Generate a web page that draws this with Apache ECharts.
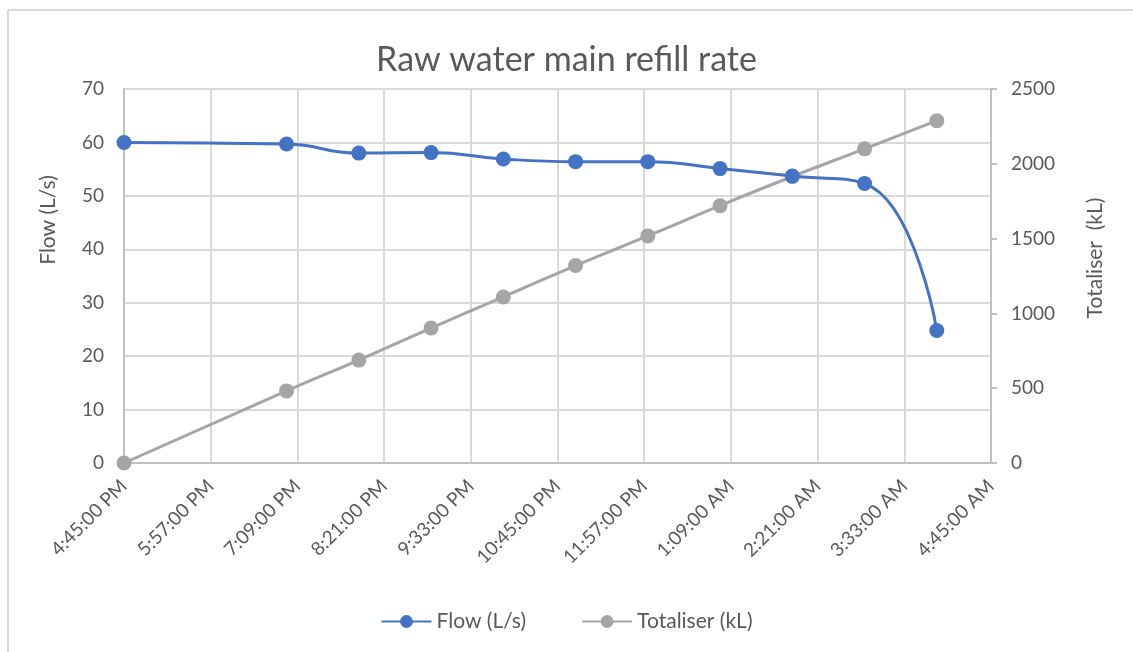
<!DOCTYPE html>
<html>
<head>
<meta charset="utf-8">
<script src="https://cdn.jsdelivr.net/npm/echarts@6/dist/echarts.min.js"></script>
<style>
  html, body { margin: 0; padding: 0; background: #fff; }
  #chart { width: 1133px; height: 652px; }
</style>
</head>
<body>
<div id="chart"></div>
<script>
// readings (time of day)
const times = ['4:45 PM', '7:00 PM', '8:00 PM', '9:00 PM', '10:00 PM', '11:00 PM',
  '12:00 AM', '1:00 AM', '2:00 AM', '3:00 AM', '4:00 AM']
const flow = [60, 59.7, 58, 58.1, 56.9, 56.4, 56.4, 55.1, 53.7, 52.3, 24.8]
const totaliser = [0, 482, 688, 902, 1110, 1320, 1518, 1720, 1915, 2100, 2288]

const startMin = 16 * 60 + 45  // 4:45 PM

// "7:00 PM" -> minutes after the start, wrapping past midnight
const toOffset = (t) => {
  const [hm, ap] = t.split(' ')
  let [h, m] = hm.split(':').map(Number)
  if (ap === 'PM' && h !== 12) h += 12
  if (ap === 'AM' && h === 12) h = 0
  let mins = h * 60 + m - startMin
  if (mins < 0) mins += 24 * 60
  return mins
}

// axis label like Excel: 4:45:00 PM
const fmtTime = (v) => {
  let mins = (startMin + v) % (24 * 60)
  let h = Math.floor(mins / 60)
  const m = Math.round(mins % 60)
  const ap = h >= 12 ? 'PM' : 'AM'
  h = h % 12
  if (h === 0) h = 12
  return h + ':' + String(m).padStart(2, '0') + ':00 ' + ap
}

const xs = times.map(toOffset)
const font = 'Lato, "Open Sans", sans-serif'
const textColor = '#595959'

const chart = echarts.init(document.getElementById('chart'))
chart.setOption({
  animation: false,
  textStyle: { fontFamily: font },
  title: {
    text: 'Raw water main refill rate',
    left: 'center',
    top: 38,
    textStyle: { fontFamily: font, fontSize: 34, fontWeight: 'normal', color: textColor }
  },
  legend: {
    bottom: 15,
    left: 'center',
    itemWidth: 50,
    itemHeight: 16,
    itemGap: 55,
    textStyle: { fontFamily: font, fontSize: 21, color: textColor }
  },
  graphic: [
    { type: 'line', shape: { x1: 8, y1: 10, x2: 1133, y2: 10 }, style: { stroke: '#d9d9d9', lineWidth: 2 } },
    { type: 'line', shape: { x1: 8, y1: 10, x2: 8, y2: 652 }, style: { stroke: '#d9d9d9', lineWidth: 2 } }
  ],
  grid: { left: 124, right: 142, top: 89, bottom: 189 },
  xAxis: {
    type: 'value',
    min: 0,
    max: 720,
    interval: 72,
    axisLine: { onZero: false, lineStyle: { color: '#bfbfbf', width: 2 } },
    axisTick: { show: false },
    splitLine: { lineStyle: { color: '#d9d9d9', width: 2 } },
    axisLabel: {
      rotate: 45,
      formatter: fmtTime,
      fontFamily: font,
      fontSize: 19,
      color: textColor,
      margin: 20
    }
  },
  yAxis: [
    {
      type: 'value',
      min: 0,
      max: 70,
      interval: 10,
      name: 'Flow (L/s)',
      nameLocation: 'middle',
      nameGap: 65,
      nameTextStyle: { fontFamily: font, fontSize: 21, color: textColor, padding: [0, 0, 0, 112] },
      axisLine: { show: true, lineStyle: { color: '#bfbfbf', width: 2 } },
      axisTick: { show: false },
      splitLine: { lineStyle: { color: '#d9d9d9', width: 2 } },
      axisLabel: { fontFamily: font, fontSize: 19, color: textColor, margin: 20 }
    },
    {
      type: 'value',
      min: 0,
      max: 2500,
      interval: 500,
      name: 'Totaliser  (kL)',
      nameLocation: 'middle',
      nameGap: 94,
      nameTextStyle: { fontFamily: font, fontSize: 21, color: textColor, padding: [0, 0, 0, 36] },
      axisLine: { show: true, lineStyle: { color: '#bfbfbf', width: 2 } },
      axisTick: { show: true, length: 6, lineStyle: { color: '#bfbfbf', width: 2 } },
      splitLine: { show: false },
      axisLabel: { fontFamily: font, fontSize: 19, color: textColor, margin: 20, formatter: (v) => String(v) }
    }
  ],
  series: [
    {
      name: 'Flow (L/s)',
      type: 'line',
      yAxisIndex: 0,
      smooth: 0.5,
      symbol: 'circle',
      symbolSize: 15,
      lineStyle: { color: '#4472c4', width: 3 },
      itemStyle: { color: '#4472c4' },
      data: xs.map((x, i) => [x, flow[i]]),
      z: 3
    },
    {
      name: 'Totaliser (kL)',
      type: 'line',
      yAxisIndex: 1,
      smooth: 0.5,
      symbol: 'circle',
      symbolSize: 15,
      lineStyle: { color: '#a5a5a5', width: 3 },
      itemStyle: { color: '#a5a5a5' },
      data: xs.map((x, i) => [x, totaliser[i]]),
      z: 2
    }
  ]
})
</script>
</body>
</html>
